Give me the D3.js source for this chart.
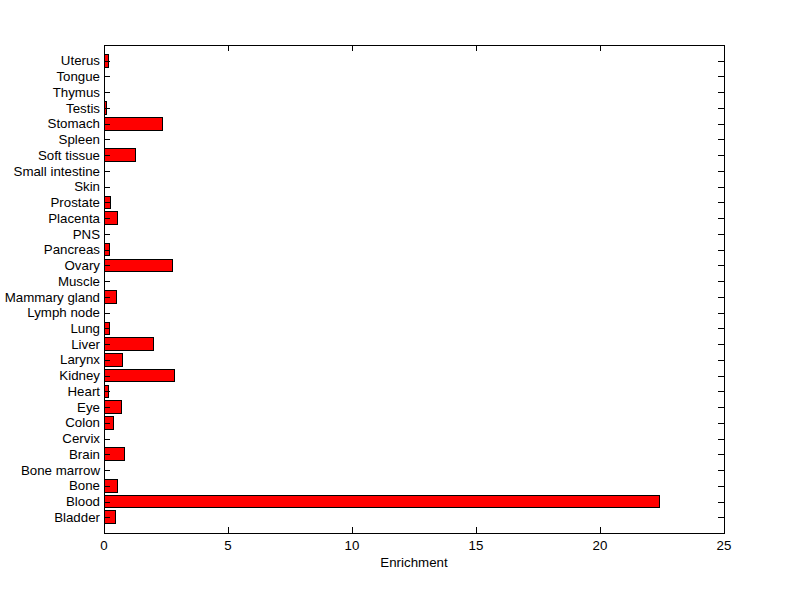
<!DOCTYPE html>
<html><head><meta charset="utf-8">
<script src="https://cdn.jsdelivr.net/npm/d3@7/dist/d3.min.js"></script>
<style>body{margin:0;background:#fff}svg{display:block}text{font-family:"Liberation Sans",Arial,sans-serif;fill:#000}</style>
</head><body><svg id="c" width="800" height="599"></svg>
<script>
const categories = ["Bladder","Blood","Bone","Bone marrow","Brain","Cervix","Colon","Eye","Heart","Kidney","Larynx","Liver","Lung","Lymph node","Mammary gland","Muscle","Ovary","Pancreas","PNS","Placenta","Prostate","Skin","Small intestine","Soft tissue","Spleen","Stomach","Testis","Thymus","Tongue","Uterus"];
const values = [0.46,22.38,0.54,0,0.82,0,0.38,0.70,0.17,2.84,0.74,1.99,0.21,0,0.5,0,2.76,0.24,0,0.54,0.28,0.04,0,1.25,0,2.35,0.12,0,0,0.2];
const xTicks = [0,5,10,15,20,25];
const xLabel = "Enrichment";

const svg = d3.select("#c");
const L=104,R=724,T=45,B=533;
const x = d3.scaleLinear().domain([0,25]).range([L,R]);
const y = d3.scaleLinear().domain([0,categories.length+1]).range([B,T]);
const step = y(0)-y(1);
const bh = step*0.8;
const fs = 13.3;

// bars
svg.append("g").selectAll("rect").data(values).join("rect")
  .attr("x",x(0)).attr("y",(d,i)=>y(i+1)-bh/2)
  .attr("width",d=>x(d)-x(0)).attr("height",bh)
  .attr("fill","#ff0000").attr("stroke","#000").attr("stroke-width",1)
  .attr("shape-rendering","crispEdges");

const g = svg.append("g").attr("shape-rendering","crispEdges");
// box
g.append("rect").attr("x",L).attr("y",T).attr("width",R-L).attr("height",B-T)
  .attr("fill","none").attr("stroke","#000");
// y ticks
categories.forEach((c,i)=>{
  const yy=Math.round(y(i+1))+0.5;
  g.append("line").attr("x1",L).attr("x2",L+6).attr("y1",yy).attr("y2",yy).attr("stroke","#000");
  g.append("line").attr("x1",R-6).attr("x2",R).attr("y1",yy).attr("y2",yy).attr("stroke","#000");
});
// x ticks
xTicks.forEach(t=>{
  const xx=Math.round(x(t))+0.5;
  g.append("line").attr("x1",xx).attr("x2",xx).attr("y1",B).attr("y2",B-6).attr("stroke","#000");
  g.append("line").attr("x1",xx).attr("x2",xx).attr("y1",T).attr("y2",T+6).attr("stroke","#000");
});
// labels
svg.append("g").selectAll("text").data(categories).join("text")
  .attr("x",L-4).attr("y",(d,i)=>y(i+1)).attr("dy","0.35em")
  .attr("text-anchor","end").attr("font-size",fs).text(d=>d);
svg.append("g").selectAll("text").data(xTicks).join("text")
  .attr("x",d=>x(d)).attr("y",B+17).attr("text-anchor","middle").attr("font-size",fs).text(d=>d);
svg.append("text").attr("x",(L+R)/2).attr("y",B+34).attr("text-anchor","middle").attr("font-size",fs).text(xLabel);
</script></body></html>
